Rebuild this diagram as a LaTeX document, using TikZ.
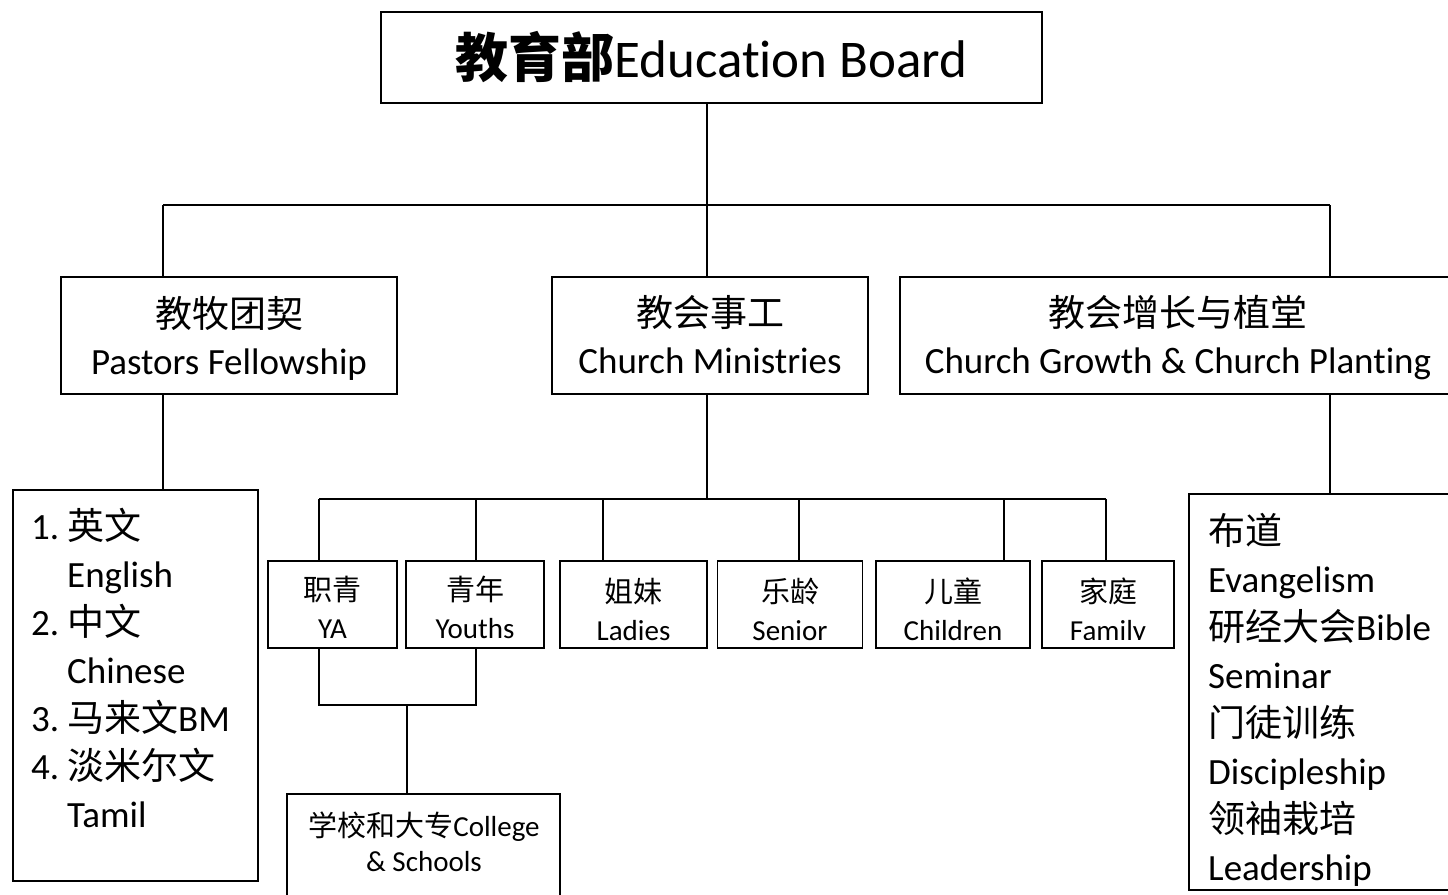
\documentclass[tikz,border=0pt]{standalone}
\usepackage{fontspec}
\setmainfont{Carlito}[Ligatures={NoCommon,NoRequired,NoContextual}]
\newfontfamily\cjk{Noto Sans CJK SC}
\begin{document}
\begin{tikzpicture}[x=1pt,y=-1pt,
  box/.style={draw, line width=1.6pt, inner sep=0pt},
  txt/.style={inner sep=0pt, align=center},
  conn/.style={line width=1.6pt},
  big/.style={font=\fontsize{53}{60}\selectfont},
  mid/.style={font=\fontsize{37}{47}\selectfont},
  small/.style={font=\fontsize{29}{38}\selectfont},
  listtext/.style={inner sep=0pt, align=left, anchor=north west, font=\fontsize{37}{48}\selectfont}
]
\useasboundingbox (0,0) rectangle (1448,894);
\clip (0,0) rectangle (1448,894);

% top
\node[box, big, minimum width=661, minimum height=91] (top) at (711.5,57.5) {{\cjk\bfseries 教育部}Educat\kern0pt ion Board};

% level 2
\node[box, minimum width=336, minimum height=117] (pf) at (229,335.5) {};
\node[txt, mid] (pft) at (229,338) {{\cjk 教牧团契}\\Pastors Fellowship};
\node[box, minimum width=316, minimum height=117] (cm) at (710,335.5) {};
\node[txt, mid] (cmt) at (710,334.5) {{\cjk 教会事工}\\Church Ministries};
\node[box, minimum width=556, minimum height=117] (cg) at (1178,335.5) {};
\node[txt, mid] (cgt) at (1178,338) {{\cjk 教会增长与植堂}\\Church Growth \& Church Plant\kern0pt ing};

% left list
\node[box, minimum width=245, minimum height=391, anchor=north west] (lang) at (12,489) {};
\node[listtext] (langtext) at (31,508) {%
\makebox[36pt][l]{1.}{\cjk 英文}\\
\hspace*{36pt}English\\
\makebox[36pt][l]{2.}{\cjk 中文}\\
\hspace*{36pt}Chinese\\
\makebox[36pt][l]{3.}{\cjk 马来文}BM\\
\makebox[36pt][l]{4.}{\cjk 淡米尔文}\\
\hspace*{36pt}Tamil};

% right list
\node[box, minimum width=300, minimum height=396, anchor=north west] (cgl) at (1188,493) {};
\node[listtext] (cgltext) at (1208,513) {%
{\cjk 布道}\\
Evangelism\\
{\cjk 研经大会}Bible\\
Seminar\\
{\cjk 门徒训练}\\
Discipleship\\
{\cjk 领袖栽培}\\
Leadership};

% ministries
\node[box, minimum width=129, minimum height=87] (ya) at (332.5,604.5) {};
\node[txt, small] (yat) at (332.5,607.5) {{\cjk 职青}\\YA};
\node[box, minimum width=138, minimum height=87] (yo) at (475,604.5) {};
\node[txt, small] (yot) at (475,607.5) {{\cjk 青年}\\Youths};
\node[box, minimum width=147, minimum height=87] (la) at (633.5,604.5) {};
\node[txt, small] (lat) at (633.5,609.5) {{\cjk 姐妹}\\Ladies};
\node[box, minimum width=145, minimum height=87] (se) at (790,604.5) {};
\node[txt, small] (set) at (790,609.5) {{\cjk 乐龄}\\Senior};
\node[box, minimum width=154, minimum height=87] (ch) at (953,604.5) {};
\node[txt, small] (cht) at (953,609.5) {{\cjk 儿童}\\Children};
\node[box, minimum width=132, minimum height=87] (fa) at (1108,604.5) {};
\begin{scope}
\clip (1042,561) rectangle (1174,639);
\node[txt, small] (fat) at (1108,611.5) {{\cjk 家庭}\\Family};
\end{scope}

% college
\node[box, minimum width=273, minimum height=130, anchor=north] (col) at (423.5,793) {};
\node[txt, font=\fontsize{29}{35}\selectfont] (colt) at (424,842) {{\cjk 学校和大专}College\\\& Schools};

% connectors
\coordinate (b1) at (707,205);
\coordinate (bl) at (163,205);
\coordinate (br) at (1330,205);
\draw[conn] (top.south -| b1) -- (b1);
\draw[conn] (bl) -- (br);
\draw[conn] (bl) -- (pf.north -| bl);
\draw[conn] (b1) -- (cm.north -| b1);
\draw[conn] (br) -- (cg.north -| br);
\draw[conn] (pf.south -| bl) -- (lang.north -| bl);
\draw[conn] (cg.south -| br) -- (cgl.north -| br);

\coordinate (m1) at (707,499);
\coordinate (mya) at (319,499);
\coordinate (myo) at (476,499);
\coordinate (mla) at (603,499);
\coordinate (mse) at (799,499);
\coordinate (mch) at (1004,499);
\coordinate (mfa) at (1106,499);
\draw[conn] (cm.south -| m1) -- (m1);
\draw[conn] (mya) -- (mfa);
\draw[conn] (mya) -- (ya.north -| mya);
\draw[conn] (myo) -- (yo.north -| myo);
\draw[conn] (mla) -- (la.north -| mla);
\draw[conn] (mse) -- (se.north -| mse);
\draw[conn] (mch) -- (ch.north -| mch);
\draw[conn] (mfa) -- (fa.north -| mfa);

\coordinate (jl) at (319,705);
\coordinate (jr) at (476,705);
\coordinate (jm) at (407,705);
\draw[conn] (ya.south -| jl) -- (jl) -- (jr) -- (yo.south -| jr);
\draw[conn] (jm) -- (col.north -| jm);
\end{tikzpicture}
\end{document}
